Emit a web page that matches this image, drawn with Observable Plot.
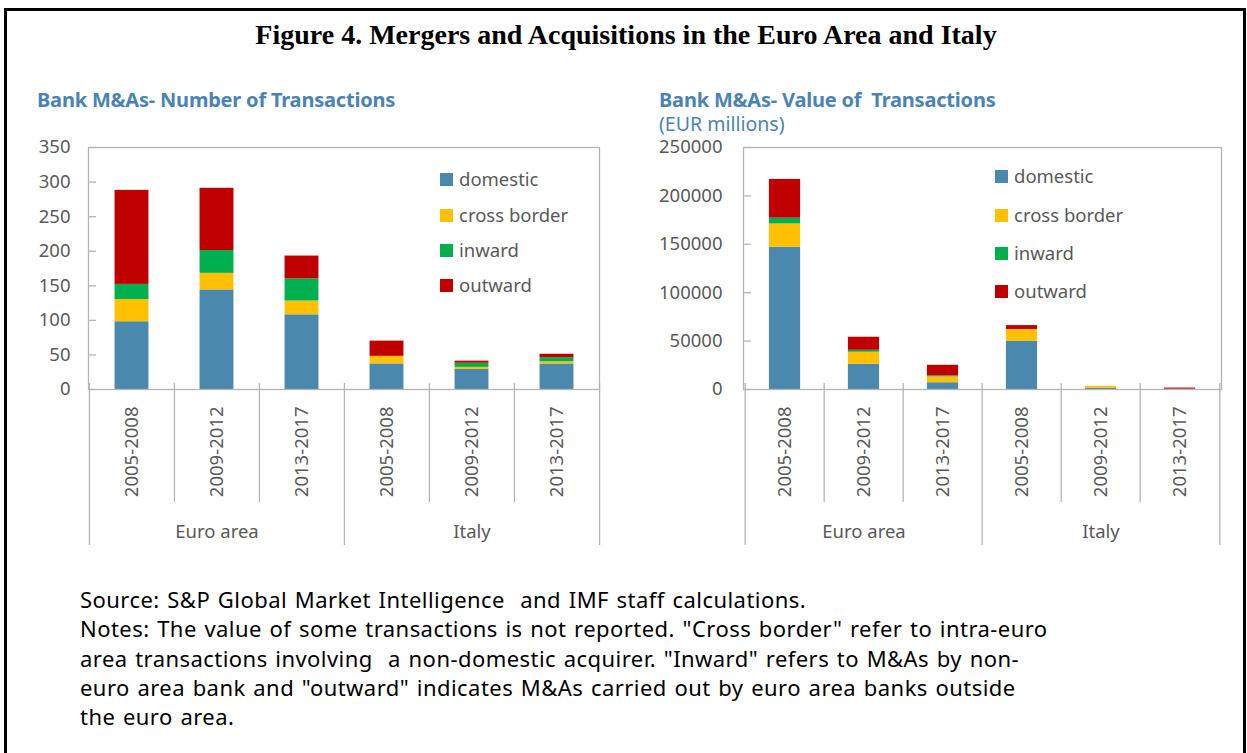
<!DOCTYPE html>
<html>
<head>
<meta charset="utf-8">
<script src="https://cdn.jsdelivr.net/npm/d3@7"></script>
<script src="https://cdn.jsdelivr.net/npm/@observablehq/plot@0.6"></script>
<style>
  html, body { margin: 0; padding: 0; background: #fff; }
  body { width: 1247px; height: 753px; position: relative; overflow: hidden; font-family: "Noto Sans", sans-serif; }
  .abs { position: absolute; }
  #frameBox { left: 4px; top: 8px; width: 1236px; height: 800px; border: 3px solid #000; border-bottom: none; }
  #title { left: 0; width: 1252px; top: 18px; text-align: center; font-family: "Liberation Serif", serif; font-weight: bold; font-size: 28px; line-height: 34px; color: #000; }
  .sub { color: #4a83b5; font-size: 20px; line-height: 24px; font-weight: bold; white-space: nowrap; letter-spacing: -0.2px; }
  .subn { color: #4a83b5; font-size: 19.5px; line-height: 20px; white-space: nowrap; }
  .legend .item { position: absolute; white-space: nowrap; font-size: 18.5px; color: #595959; }
  .legend .sw { position: absolute; width: 13px; height: 13px; }
  #notes { left: 80px; top: 585px; font-size: 22px; line-height: 29.3px; color: #000; white-space: nowrap; letter-spacing: 0.45px; word-spacing: 1.5px; }
</style>
</head>
<body>
<div id="frameBox" class="abs"></div>
<div id="title" class="abs">Figure 4. Mergers and Acquisitions in the Euro Area and Italy</div>
<div class="abs sub" style="left:37px; top:88px;">Bank M&amp;As- Number of Transactions</div>
<div class="abs sub" style="left:659px; top:88px;">Bank M&amp;As- Value of&nbsp; Transactions</div>
<div class="abs subn" style="left:659px; top:114px;">(EUR millions)</div>
<div id="left" class="abs" style="left:0px; top:140px;"></div>
<div id="right" class="abs" style="left:620px; top:140px;"></div>
<div id="legL" class="abs legend" style="left:0; top:0;"></div>
<div id="legR" class="abs legend" style="left:0; top:0;"></div>
<div id="notes" class="abs">
Source: S&amp;P Global Market Intelligence&nbsp; and IMF staff calculations.<br>
Notes: The value of some transactions is not reported. "Cross border" refer to intra-euro<br>
area transactions involving&nbsp; a non-domestic acquirer. "Inward" refers to M&amp;As by non-<br>
euro area bank and "outward" indicates M&amp;As carried out by euro area banks outside<br>
the euro area.
</div>
<script>
// ---- Data ----
const groups = ["Euro area", "Italy"];
const periods = ["2005-2008", "2009-2012", "2013-2017"];
const series = ["domestic", "cross border", "inward", "outward"];
const colors = ["#4b88ae", "#ffc000", "#00b050", "#c00000"];

// Number of transactions: order Euro area (3 periods), Italy (3 periods)
const countDomestic = [98, 144, 108, 37, 29, 37];
const countCross    = [32, 24, 20, 11, 3, 3];
const countInward   = [22, 33, 32, 0, 6, 6];
const countOutward  = [136, 90, 33, 22, 3, 5];
const countTicks = [0, 50, 100, 150, 200, 250, 300, 350];

// Value of transactions, EUR millions
const valueDomestic = [147000, 26000, 7000, 50000, 1300, 300];
const valueCross    = [24000, 12500, 6000, 12000, 2000, 0];
const valueInward   = [6000, 2000, 1000, 0, 0, 0];
const valueOutward  = [40000, 13500, 11000, 4000, 0, 1200];
const valueTicks = [0, 50000, 100000, 150000, 200000, 250000];

const keys = [];
groups.forEach(g => periods.forEach(p => keys.push(g + "|" + p)));

function longData(arrs) {
  const out = [];
  series.forEach((s, si) => {
    keys.forEach((k, ki) => out.push({key: k, series: s, value: arrs[si][ki]}));
  });
  return out;
}

const gray = "#595959";
const lineGray = "#b5b5b5";

function makeChart({data, ticks, width, marginLeft, marginRight, labelPad}) {
  const marginTop = 7, innerH = 242, marginBottom = 170;
  const height = marginTop + innerH + marginBottom;
  const innerW = width - marginLeft - marginRight;
  const bw = innerW / keys.length;
  const barW = bw * 0.40;
  const inset = (bw - barW) / 2;
  const shortSep = [keys[1], keys[2], keys[4], keys[5]];
  const longSepLeft = [keys[0], keys[3]];
  const groupMid = [{key: keys[1], label: groups[0]}, {key: keys[4], label: groups[1]}];
  return Plot.plot({
    width, height, marginTop, marginBottom, marginLeft, marginRight,
    style: {fontFamily: "Noto Sans, sans-serif", background: "transparent", overflow: "visible"},
    x: {type: "band", domain: keys, padding: 0, axis: null, label: null},
    y: {domain: [ticks[0], ticks[ticks.length - 1]], axis: null, label: null},
    color: {domain: series, range: colors},
    marks: [
      Plot.barY(data, {x: "key", y: "value", fill: "series", insetLeft: inset, insetRight: inset}),
      Plot.frame({stroke: lineGray, strokeWidth: 1.3}),
      Plot.ruleY(ticks, {y: d => d, insetRight: innerW - 8, stroke: lineGray, strokeWidth: 1.3}),
      Plot.axisY(ticks, {anchor: "left", label: null, tickSize: 0, tickPadding: labelPad, tickFormat: d => String(d), fontSize: 18.5, fill: gray}),
      Plot.axisX({anchor: "bottom", label: null, tickSize: 0, tickRotate: -90, tickPadding: 17, tickFormat: d => d.split("|")[1], fontSize: 18.5, fill: gray}),
      Plot.ruleX(shortSep, {x: d => d, dx: -bw / 2, insetTop: innerH - 6, insetBottom: -113, stroke: lineGray, strokeWidth: 1.3}),
      Plot.ruleX(longSepLeft, {x: d => d, dx: -bw / 2, insetTop: innerH - 6, insetBottom: -156, stroke: lineGray, strokeWidth: 1.3}),
      Plot.ruleX([keys[keys.length - 1]], {x: d => d, dx: bw / 2, insetTop: innerH - 6, insetBottom: -156, stroke: lineGray, strokeWidth: 1.3}),
      Plot.text(groupMid, {x: "key", text: "label", frameAnchor: "bottom", dy: 143, fontSize: 18.5, fill: gray, lineAnchor: "middle"})
    ]
  });
}

document.getElementById("left").appendChild(makeChart({
  data: longData([countDomestic, countCross, countInward, countOutward]),
  ticks: countTicks, width: 620, marginLeft: 88, marginRight: 21, labelPad: 18
}));
document.getElementById("right").appendChild(makeChart({
  data: longData([valueDomestic, valueCross, valueInward, valueOutward]),
  ticks: valueTicks, width: 627, marginLeft: 123, marginRight: 26, labelPad: 21
}));

function legend(el, x, ys) {
  series.forEach((s, i) => {
    const sw = document.createElement("div");
    sw.className = "sw";
    sw.style.left = x + "px";
    sw.style.top = (ys[i] - 7) + "px";
    sw.style.background = colors[i];
    el.appendChild(sw);
    const t = document.createElement("div");
    t.className = "item";
    t.style.left = (x + 19) + "px";
    t.style.top = (ys[i] - 14) + "px";
    t.textContent = s;
    el.appendChild(t);
  });
}
legend(document.getElementById("legL"), 440, [180, 216, 251, 286]);
legend(document.getElementById("legR"), 995, [177, 216, 254, 292]);
</script>
</body>
</html>
